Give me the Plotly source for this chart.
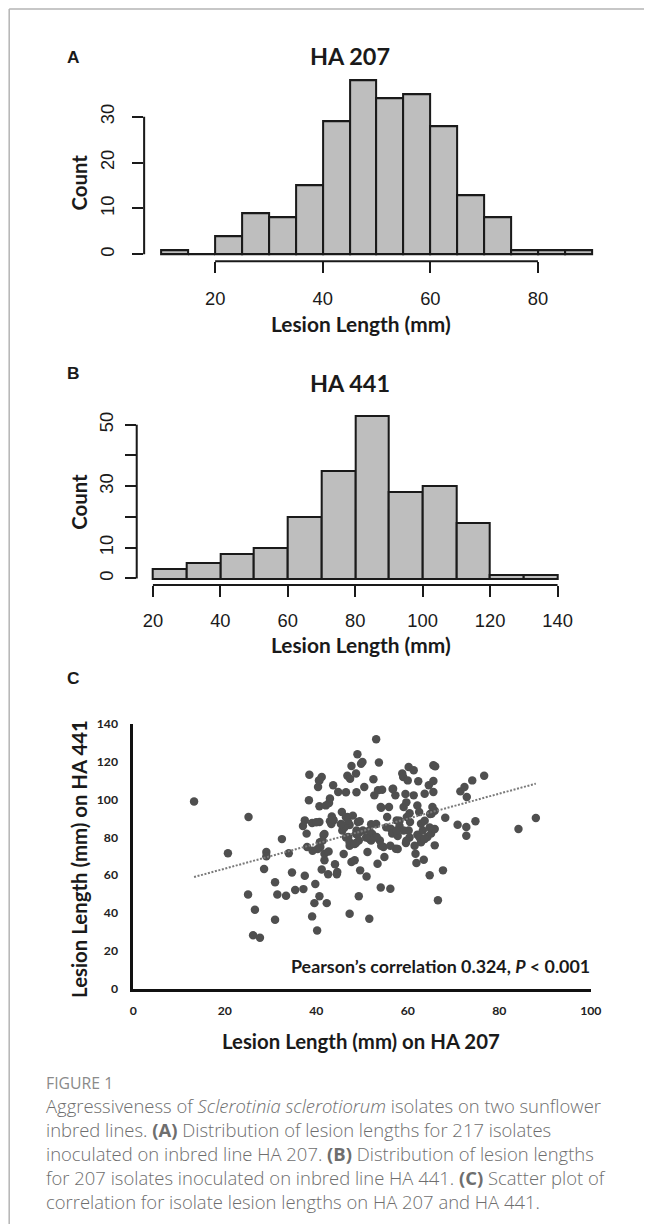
import numpy as np
import plotly.graph_objects as go

W, H = 655, 1231
# page geometry: figure sits inside the default 8 px body margin and the
# page (671 x 1247) is viewed at 655 x 1231
PAD = 8
SX = 655 / (W + 2 * PAD)
SY = 1231 / (H + 2 * PAD)
FS = 2 / (SX + SY)  # font / stroke compensation
X_NUDGE = 3

# ---- Panel A: lesion lengths on HA 207 (5 mm bins) ----
a_bin_start = 10
a_bin_width = 5
a_counts = [1, 0, 4, 9, 8, 15, 29, 38, 34, 35, 28, 13, 8, 1, 1, 1]
a_xticks = [20, 40, 60, 80]
a_yticks = [0, 10, 20, 30]
a_ytick_text = ["0", "10", "20", "30"]

# ---- Panel B: lesion lengths on HA 441 (10 mm bins) ----
b_bin_start = 20
b_bin_width = 10
b_counts = [3, 5, 8, 10, 20, 35, 53, 28, 30, 18, 1, 1]
b_xticks = [20, 40, 60, 80, 100, 120, 140]
b_yticks = [0, 10, 20, 30, 40, 50]
b_ytick_text = ["0", "10", "", "30", "", "50"]

# ---- Panel C: per-isolate lesion length on both lines ----
ha207_mm = [
    13.3, 20.7, 25.2, 25.1, 26.6, 26.2, 27.7, 28.6, 29.1, 29.1,
    31.0, 31.5, 31.0, 32.5, 33.4, 34.0, 34.7, 35.4, 37.2, 37.5,
    37.5, 37.1, 37.9, 38.0, 38.5, 38.4, 39.1, 39.1, 39.8, 39.6,
    40.2, 40.7, 40.7, 40.8, 40.9, 40.7, 40.6, 40.4, 41.2, 41.2,
    41.6, 41.8, 41.8, 42.1, 42.3, 42.6, 42.7, 42.8, 43.0, 43.4,
    43.0, 43.7, 43.8, 44.1, 44.6, 44.5, 44.8, 45.6, 45.7, 46.0,
    46.5, 46.8, 46.8, 47.0, 47.3, 47.3, 47.3, 47.4, 47.7, 47.7,
    48.0, 48.4, 48.7, 48.7, 48.8, 48.8, 49.0, 49.1, 49.3, 49.3,
    49.8, 49.6, 49.3, 50.1, 50.5, 51.0, 51.2, 51.6, 51.6, 52.0,
    52.2, 52.5, 52.7, 53.1, 53.2, 53.4, 53.5, 53.7, 53.9, 54.1,
    54.1, 54.4, 54.7, 54.9, 55.5, 55.9, 56.2, 56.3, 56.6, 56.8,
    57.3, 57.4, 57.6, 57.8, 58.2, 58.8, 59.0, 59.1, 59.5, 59.6,
    59.8, 60.0, 60.2, 60.2, 60.5, 61.3, 61.3, 61.7, 61.9, 62.1,
    62.1, 62.3, 62.5, 62.9, 62.9, 63.5, 63.7, 64.3, 64.6, 64.8,
    65.1, 65.2, 65.4, 65.6, 65.6, 65.6, 65.9, 65.9, 66.0, 66.6,
    67.7, 68.2, 70.9, 71.5, 72.4, 72.8, 72.8, 72.9, 74.1, 74.8,
    76.7, 84.2, 88.0,
    46.5, 47.0, 46.2, 49.5, 53.1, 58.2, 59.1, 57.6, 63.7, 64.8,
    63.3, 62.6, 63.7, 60.4, 61.5, 56.2, 57.8, 54.2, 53.1, 52.0,
    50.9, 48.7, 46.5, 47.3, 48.4, 45.4, 43.3, 43.6, 40.0, 41.8,
    41.4, 40.3, 39.2, 59.7, 55.3, 65.9, 64.9, 60.4, 59.7, 56.7,
    51.6, 50.2, 54.2, 40.7,
]
ha441_mm = [
    98.9, 71.5, 90.7, 49.8, 41.7, 28.2, 26.9, 63.2, 72.2, 69.9,
    56.2, 49.8, 36.4, 79.0, 49.1, 71.5, 61.4, 52.1, 52.6, 59.7,
    88.9, 85.9, 81.9, 74.8, 113.0, 99.5, 38.2, 87.5, 55.3, 45.2,
    30.8, 48.8, 88.0, 77.3, 74.8, 96.3, 110.0, 106.5, 111.8, 62.9,
    81.2, 71.3, 67.8, 96.8, 45.2, 60.4, 72.5, 98.1, 100.4, 91.0,
    88.4, 107.4, 88.9, 65.7, 61.6, 60.4, 103.9, 93.3, 83.6, 71.1,
    103.7, 112.5, 90.7, 80.1, 39.6, 86.4, 75.5, 110.9, 117.6, 66.9,
    91.4, 67.8, 76.9, 113.6, 103.7, 83.6, 123.8, 88.0, 48.8, 82.2,
    118.8, 62.5, 78.3, 119.7, 106.5, 59.3, 72.2, 37.0, 79.2, 86.8,
    81.9, 110.6, 102.1, 131.7, 80.1, 66.0, 104.8, 119.4, 78.3, 95.9,
    53.5, 105.1, 74.8, 69.5, 90.7, 95.9, 52.8, 84.5, 81.9, 105.6,
    102.1, 73.9, 88.9, 80.6, 85.9, 113.6, 111.8, 95.9, 102.8, 76.9,
    90.7, 110.0, 117.1, 83.6, 88.0, 115.3, 102.1, 71.3, 66.4, 96.8,
    81.3, 109.5, 93.3, 87.1, 77.3, 68.1, 103.0, 80.1, 107.4, 59.9,
    81.9, 92.4, 95.9, 118.0, 103.9, 109.7, 75.7, 84.3, 117.4, 46.7,
    62.5, 90.3, 86.6, 104.2, 106.5, 85.4, 80.8, 101.2, 110.0, 88.4,
    112.5, 84.3, 90.1,
    90.5, 87.9, 85.2, 88.4, 87.0, 88.7, 83.5, 83.5, 88.7, 85.2,
    83.5, 79.9, 79.1, 79.9, 75.5, 75.5, 73.8, 75.5, 79.9, 78.2,
    79.9, 81.7, 79.9, 77.3, 76.4, 87.0, 87.0, 89.6, 87.9, 81.7,
    78.2, 73.8, 72.9, 78.2, 85.2, 94.0, 92.3, 92.6, 98.4, 105.5,
    83.5, 83.5, 95.5, 109.9,
]
# linear trendline coefficients (HA 441 = slope * HA 207 + intercept)
trend_slope = 0.66
trend_intercept = 50.2
c_xticks = [0, 20, 40, 60, 80, 100]
c_yticks = [0, 20, 40, 60, 80, 100, 120, 140]

caption_lines = [
    "Aggressiveness of <i>Sclerotinia sclerotiorum</i> isolates on two sunflower",
    "inbred lines. <b>(A)</b> Distribution of lesion lengths for 217 isolates",
    "inoculated on inbred line HA 207. <b>(B)</b> Distribution of lesion lengths",
    "for 207 isolates inoculated on inbred line HA 441. <b>(C)</b> Scatter plot of",
    "correlation for isolate lesion lengths on HA 207 and HA 441.",
]


# page-pixel -> paper fraction helpers
def px(x):
    return ((x + X_NUDGE) / SX - PAD) / W


def py(y):
    return 1 - (y / SY - PAD) / H


def f(size):
    return round(size * FS, 2)


BOLD = "Lato"
R_FONT = "Liberation Sans"
BAR_FILL = "#bebebe"
INK = "#1a1a1a"

fig = go.Figure()


def add_hist(counts, start, width, xa, ya):
    counts = np.asarray(counts)
    edges = start + width * np.arange(len(counts) + 1)
    centers = (edges[:-1] + edges[1:]) / 2
    fig.add_trace(go.Bar(
        x=centers, y=counts, width=width,
        marker=dict(color=BAR_FILL, line=dict(color=INK, width=f(2))),
        xaxis=xa, yaxis=ya, showlegend=False, hoverinfo="x+y",
    ))
    span = edges[-1] - edges[0]
    xr = [edges[0] - 0.04 * span, edges[-1] + 0.04 * span]
    yr = [-0.04 * counts.max(), 1.04 * counts.max()]
    return xr, yr


a_xr, a_yr = add_hist(a_counts, a_bin_start, a_bin_width, "x", "y")
b_xr, b_yr = add_hist(b_counts, b_bin_start, b_bin_width, "x2", "y2")

# scatter + trendline
fig.add_trace(go.Scatter(
    x=ha207_mm, y=ha441_mm, mode="markers",
    marker=dict(color="#4f4f4f", size=f(8.3), line=dict(width=0)),
    xaxis="x3", yaxis="y3", showlegend=False, cliponaxis=False,
))
tx = np.array([min(ha207_mm), max(ha207_mm)])
fig.add_trace(go.Scatter(
    x=tx, y=trend_slope * tx + trend_intercept, mode="lines",
    line=dict(color="#7a7a7a", width=2, dash="2px,1.6px"),
    xaxis="x3", yaxis="y3", showlegend=False, hoverinfo="skip",
))

hist_tick = dict(family=R_FONT, size=f(18), color=INK)
hist_axis_common = dict(
    showline=False, showgrid=False, zeroline=False,
    ticks="outside", ticklen=f(11), tickwidth=f(2), tickcolor=INK,
    tickfont=hist_tick, fixedrange=True,
)
scatter_tick = dict(family=BOLD, size=f(12), color="#222", weight="bold")

fig.update_layout(
    width=W, height=H,
    margin=dict(l=0, r=0, t=0, b=0),
    paper_bgcolor="white", plot_bgcolor="white",
    bargap=0,
    xaxis=dict(domain=[px(144.8), px(609.2)], range=a_xr, anchor="y",
               tickvals=a_xticks, ticklabelstandoff=10, **hist_axis_common),
    yaxis=dict(domain=[py(261), py(73)], range=a_yr, anchor="x",
               tickvals=a_yticks, ticktext=a_ytick_text, tickangle=-90,
               ticklabelstandoff=11, **hist_axis_common),
    xaxis2=dict(domain=[px(137.4), px(574.0)], range=b_xr, anchor="y2",
                tickvals=b_xticks, ticklabelstandoff=8, **hist_axis_common),
    yaxis2=dict(domain=[py(584.5), py(408.6)], range=b_yr, anchor="x2",
                tickvals=b_yticks, ticktext=b_ytick_text, tickangle=-90,
                ticklabelstandoff=4, **hist_axis_common),
    xaxis3=dict(domain=[px(133.9), px(591.0)], range=[0, 100], anchor="y3",
                tickvals=c_xticks, showgrid=False, zeroline=False,
                showline=True, linecolor="#111", linewidth=f(2.5), ticks="",
                ticklabelstandoff=9, fixedrange=True, tickfont=scatter_tick),
    yaxis3=dict(domain=[py(988), py(723)], range=[0, 140], anchor="x3",
                tickvals=c_yticks, showgrid=False, zeroline=False,
                showline=True, linecolor="#111", linewidth=f(2.5), ticks="",
                ticklabelstandoff=10, fixedrange=True, tickfont=scatter_tick),
)

shapes = []
# R-style axis lines spanning first to last tick only
for xa, ya, xt, yt in (("x", "y", a_xticks, a_yticks), ("x2", "y2", b_xticks, b_yticks)):
    shapes.append(dict(type="line", xref=xa, yref=f"{ya} domain",
                       x0=min(xt), x1=max(xt), y0=0, y1=0,
                       line=dict(color=INK, width=f(2))))
    shapes.append(dict(type="line", xref=f"{xa} domain", yref=ya,
                       x0=0, x1=0, y0=min(yt), y1=max(yt),
                       line=dict(color=INK, width=f(2))))
# page frame (top and left rule)
shapes.append(dict(type="line", xref="paper", yref="paper",
                   x0=px(10), x1=1, y0=py(9), y1=py(9),
                   line=dict(color="#b4b4b4", width=1.5)))
shapes.append(dict(type="line", xref="paper", yref="paper",
                   x0=px(10), x1=px(10), y0=0, y1=py(9),
                   line=dict(color="#b4b4b4", width=1.5)))
fig.update_layout(shapes=shapes)

ann = []


def text(x, y, s, size, family=BOLD, color=INK, angle=0, xanchor="center",
         weight="bold", align="center"):
    ann.append(dict(x=px(x), y=py(y), xref="paper", yref="paper", text=s,
                    showarrow=False, textangle=angle, xanchor=xanchor,
                    yanchor="middle", align=align,
                    font=dict(family=family, size=f(size), color=color,
                              weight=weight)))


# panel letters
for letter, yy in (("A", 57), ("B", 373), ("C", 677)):
    text(74, yy, letter, 17, family=R_FONT)
# histogram titles and axis titles
text(350, 56, "HA 207", 23)
text(350, 383, "HA 441", 23)
text(80, 182, "Count", 20, angle=-90)
text(80, 501, "Count", 20, angle=-90)
text(361, 323, "Lesion Length (mm)", 20.5)
text(361, 644, "Lesion Length (mm)", 20.5)
# scatter titles
text(79, 858, "Lesion Length (mm) on HA 441", 20, angle=-90)
text(361, 1040, "Lesion Length (mm) on HA 207", 20)
text(592, 965, "Pearson’s correlation 0.324, <i>P</i> &lt; 0.001", 17.5,
     xanchor="right")

# caption: one left-aligned block (line pitch 1.3 em)
CAP_FONT = "Open Sans"
CAP_SIZE = 18.1
text(45, 1082, "FIGURE 1", 15.5, family=CAP_FONT, color="#8a8a8a",
     xanchor="left", weight="normal")
cap_mid = 1106 + (len(caption_lines) - 1) * 1.3 * CAP_SIZE / 2
text(45, cap_mid, "<br>".join(caption_lines), CAP_SIZE, family=CAP_FONT,
     color="#6e6e6e", xanchor="left", weight=300, align="left")

fig.update_layout(annotations=ann)

fig.write_html("out.html")
